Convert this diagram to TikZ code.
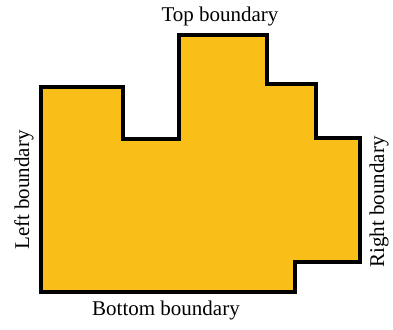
\documentclass[tikz,border=0pt]{standalone}
\usepackage{fontspec}
\setmainfont{Liberation Serif}
\definecolor{regionfill}{RGB}{249,190,23}
\begin{document}
\begin{tikzpicture}[
  x=1pt, y=-1pt,
  region/.style={draw=black, fill=regionfill, line width=3.2pt, line join=miter},
  lbl/.style={font=\fontsize{21}{25}\selectfont, inner sep=0pt}
]
\useasboundingbox (0,0) rectangle (393,329);
% outline of the region
\draw[region] (41,87) -- (123,87) -- (123,139) -- (179,139) -- (179,35)
  -- (267,35) -- (267,84) -- (316,84) -- (316,138) -- (360,138)
  -- (360,262) -- (295,262) -- (295,292) -- (41,292) -- cycle;
% labels
\node[lbl] (top)    at (220,16)  {Top boundary};
\node[lbl] (bottom) at (166,310) {Bottom boundary};
\node[lbl, rotate=90] (left)  at (24,190)  {Left boundary};
\node[lbl, rotate=90] (right) at (379,202) {Right boundary};
\end{tikzpicture}
\end{document}
